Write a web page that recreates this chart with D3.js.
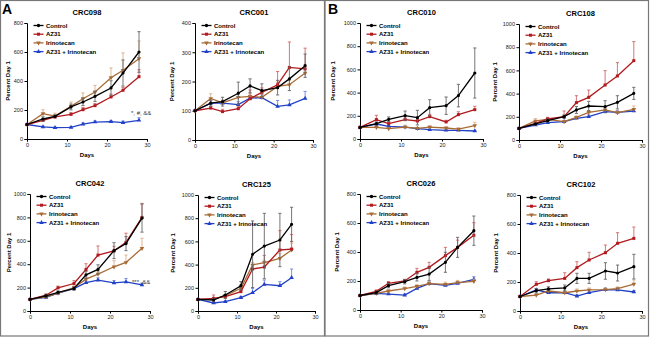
<!DOCTYPE html>
<html>
<head>
<meta charset="utf-8">
<script src="https://cdn.jsdelivr.net/npm/d3@7"></script>
<style>
  body { margin: 0; background: #fff; }
  text { font-family: Arial, "Liberation Sans", sans-serif; }
</style>
</head>
<body>
<svg id="chart" width="650" height="338"></svg>
<script>
// sampling days
const days = [0, 4, 7, 11, 14, 17, 21, 24, 28];
const days125 = [0, 4, 7, 11, 14, 17, 21, 24];
const seriesNames = ["Control", "AZ31", "Irinotecan", "AZ31 + Irinotecan"];
const xTicks = [0, 10, 20, 30];

// values per model, series order: control, az31, irinotecan, combo
const crc098 = [
  [100, 138, 156, 221, 255, 294, 352, 455, 600],
  [100, 129, 152, 170, 202, 230, 290, 336, 430],
  [100, 175, 158, 225, 278, 324, 423, 474, 554],
  [100, 83, 78, 80, 103, 117, 120, 113, 129]
];
const crc098Err = [
  [0, 15, 10, 20, 25, 35, 50, 90, 140],
  [0, 10, 12, 12, 15, 15, 20, 20, 48],
  [0, 27, 20, 30, 40, 46, 67, 120, 122],
  [0, 6, 5, 6, 8, 8, 8, 10, 18]
];
const crc001 = [
  [100, 126, 131, 160, 185, 169, 179, 209, 254],
  [100, 109, 97, 107, 141, 163, 189, 248, 243],
  [100, 142, 127, 146, 149, 146, 183, 189, 229],
  [100, 126, 126, 121, 143, 145, 115, 120, 142]
];
const crc001Err = [
  [0, 10, 15, 38, 24, 23, 25, 40, 40],
  [0, 6, 8, 8, 30, 15, 45, 87, 71],
  [0, 16, 10, 12, 12, 10, 15, 15, 30],
  [0, 8, 8, 10, 10, 10, 20, 17, 24]
];
const crc042 = [
  [100, 129, 160, 192, 309, 355, 516, 576, 794],
  [100, 135, 198, 235, 355, 478, 513, 587, 800],
  [100, 120, 152, 200, 272, 315, 378, 415, 536],
  [100, 117, 152, 192, 243, 264, 240, 249, 223]
];
const crc042Err = [
  [0, 10, 12, 15, 30, 40, 68, 60, 120],
  [0, 8, 15, 25, 49, 78, 40, 78, 120],
  [0, 8, 10, 15, 20, 25, 52, 63, 86],
  [0, 8, 10, 12, 15, 20, 20, 29, 15]
];
const crc125 = [
  [100, 95, 138, 218, 489, 560, 612, 747],
  [100, 109, 124, 167, 362, 379, 526, 534],
  [100, 103, 132, 195, 397, 417, 454, 526],
  [100, 69, 80, 115, 158, 230, 218, 287]
];
const crc125Err = [
  [0, 15, 30, 35, 287, 282, 230, 147],
  [0, 29, 10, 15, 20, 100, 167, 125],
  [0, 10, 10, 15, 20, 20, 40, 60],
  [0, 8, 8, 10, 37, 37, 35, 75]
];
const crc010 = [
  [100, 132, 170, 201, 184, 270, 287, 374, 569],
  [100, 167, 132, 167, 155, 193, 147, 210, 253],
  [100, 101, 89, 103, 92, 103, 95, 86, 115],
  [100, 129, 109, 103, 89, 80, 75, 75, 69]
];
const crc010Err = [
  [0, 15, 20, 40, 63, 69, 75, 97, 216],
  [0, 37, 15, 15, 15, 20, 15, 25, 29],
  [0, 10, 10, 15, 8, 10, 12, 8, 29],
  [0, 8, 8, 6, 6, 6, 5, 5, 5]
];
const crc108 = [
  [100, 138, 167, 201, 259, 293, 287, 325, 402],
  [100, 144, 181, 201, 322, 368, 474, 552, 684],
  [100, 164, 178, 158, 195, 239, 259, 236, 264],
  [100, 129, 149, 158, 187, 201, 244, 239, 250]
];
const crc108Err = [
  [0, 10, 12, 15, 30, 40, 52, 57, 52],
  [0, 12, 15, 49, 60, 63, 124, 115, 164],
  [0, 20, 12, 10, 12, 15, 15, 15, 29],
  [0, 10, 10, 10, 15, 15, 15, 15, 15]
];
const crc026 = [
  [100, 120, 168, 195, 225, 248, 329, 432, 547],
  [100, 129, 184, 200, 260, 294, 375, 432, 515],
  [100, 115, 131, 147, 163, 182, 177, 189, 198],
  [100, 115, 110, 103, 149, 182, 170, 184, 212]
];
const crc026Err = [
  [0, 10, 15, 15, 25, 44, 69, 69, 101],
  [0, 8, 12, 12, 27, 35, 57, 50, 87],
  [0, 8, 10, 12, 12, 12, 15, 15, 15],
  [0, 8, 8, 8, 12, 12, 12, 12, 18]
];
const crc102 = [
  [100, 140, 152, 159, 225, 225, 276, 262, 306],
  [100, 184, 209, 225, 299, 352, 402, 467, 501],
  [100, 110, 138, 126, 138, 145, 147, 154, 186],
  [100, 145, 126, 126, 103, 126, 147, 145, 131]
];
const crc102Err = [
  [0, 15, 15, 20, 35, 35, 57, 55, 85],
  [0, 18, 12, 39, 41, 53, 53, 73, 78],
  [0, 10, 10, 10, 14, 14, 12, 12, 28],
  [0, 10, 10, 10, 10, 10, 12, 10, 10]
];

const lineColors = ["#000000", "#b11a1e", "#a86b34", "#2141c6"];
const errColors = ["#666666", "#cf6a68", "#d9b08a", "#7088e0"];
const symbols = [d3.symbolCircle, d3.symbolSquare, d3.symbolTriangle, d3.symbolTriangle];

// panel layout (plot box in page pixels)
const panels = [
  { title: "CRC098", x: days, v: crc098, e: crc098Err, yMax: 800, l: 27, r: 147, t: 23, b: 139, yl: 17, note: "*, #, &&", nx: 131, ny: 115 },
  { title: "CRC001", x: days, v: crc001, e: crc001Err, yMax: 400, l: 195, r: 313, t: 23, b: 140, yl: 21 },
  { title: "CRC042", x: days, v: crc042, e: crc042Err, yMax: 1000, l: 30, r: 150, t: 194, b: 311, yl: 19, note: "***, &&", nx: 132, ny: 284 },
  { title: "CRC125", x: days125, v: crc125, e: crc125Err, yMax: 1000, l: 198, r: 315, t: 195, b: 311, yl: 23 },
  { title: "CRC010", x: days, v: crc010, e: crc010Err, yMax: 1000, l: 360, r: 483, t: 23, b: 139, yl: 25 },
  { title: "CRC108", x: days, v: crc108, e: crc108Err, yMax: 1000, l: 519, r: 642, t: 24, b: 140, yl: 22 },
  { title: "CRC026", x: days, v: crc026, e: crc026Err, yMax: 800, l: 360, r: 482, t: 194, b: 310, yl: 21 },
  { title: "CRC102", x: days, v: crc102, e: crc102Err, yMax: 800, l: 520, r: 642, t: 195, b: 311, yl: 22 }
];

const svg = d3.select("#chart");

// frames around A and B
svg.append("rect").attr("x", 0.5).attr("y", 0.5).attr("width", 324).attr("height", 335.5)
  .attr("fill", "none").attr("stroke", "#777").attr("stroke-width", 1.2);
svg.append("rect").attr("x", 325).attr("y", 0.5).attr("width", 323.5).attr("height", 335.5)
  .attr("fill", "none").attr("stroke", "#777").attr("stroke-width", 1.2);
svg.append("text").attr("x", 2).attr("y", 14).attr("font-size", 14).attr("font-weight", "bold").text("A");
svg.append("text").attr("x", 328).attr("y", 14).attr("font-size", 14).attr("font-weight", "bold").text("B");

panels.forEach((p) => {
  const x = d3.scaleLinear().domain([0, 30]).range([p.l, p.r]);
  const y = d3.scaleLinear().domain([0, p.yMax]).range([p.b, p.t]);
  const g = svg.append("g");

  // axes
  const xAxis = g.append("g").attr("transform", `translate(0,${p.b})`)
    .call(d3.axisBottom(x).tickValues(xTicks).tickSize(2.5).tickPadding(1.5));
  const yAxis = g.append("g").attr("transform", `translate(${p.l},0)`)
    .call(d3.axisLeft(y).ticks(p.yMax / 200 > 4 ? 5 : 4, "d").tickSize(2.5).tickPadding(1.5));
  [xAxis, yAxis].forEach((a) => {
    a.selectAll("path, line").attr("stroke", "#000").attr("stroke-width", 1);
    a.selectAll("text").attr("font-size", 5.5).attr("fill", "#222").attr("font-family", "Arial");
  });

  g.append("text").attr("x", (p.l + p.r) / 2).attr("y", p.t - 8)
    .attr("text-anchor", "middle").attr("font-size", 7.5).attr("font-weight", "bold").text(p.title);
  g.append("text").attr("x", (p.l + p.r) / 2).attr("y", p.b + 18)
    .attr("text-anchor", "middle").attr("font-size", 6).attr("font-weight", "bold").text("Days");
  g.append("text")
    .attr("transform", `translate(${p.l - p.yl},${(p.t + p.b) / 2}) rotate(-90)`)
    .attr("text-anchor", "middle").attr("font-size", 6).attr("font-weight", "bold").text("Percent Day 1");

  const line = d3.line().x((d) => x(d[0])).y((d) => y(d[1]));

  // draw combo first so control ends on top
  [3, 2, 1, 0].forEach((s) => {
    const pts = p.x.map((d, i) => [d, p.v[s][i], p.e[s][i]]);
    const sg = g.append("g");
    // error bars (control both ways, treatments upward)
    pts.filter((d) => d[2] > 0).forEach((d) => {
      const lo = s === 0 ? d[1] - d[2] : d[1];
      const hi = d[1] + d[2];
      sg.append("line").attr("x1", x(d[0])).attr("x2", x(d[0]))
        .attr("y1", y(lo)).attr("y2", y(hi))
        .attr("stroke", errColors[s]).attr("stroke-width", 0.9);
      [hi].concat(s === 0 ? [lo] : []).forEach((c) => {
        sg.append("line").attr("x1", x(d[0]) - 1.6).attr("x2", x(d[0]) + 1.6)
          .attr("y1", y(c)).attr("y2", y(c))
          .attr("stroke", errColors[s]).attr("stroke-width", 0.9);
      });
    });
    sg.append("path").datum(pts).attr("d", line).attr("fill", "none")
      .attr("stroke", lineColors[s]).attr("stroke-width", 1.3);
    sg.selectAll("path.m").data(pts).join("path").attr("class", "m")
      .attr("d", d3.symbol(symbols[s], s === 0 ? 8 : 9))
      .attr("transform", (d) => `translate(${x(d[0])},${y(d[1])})${s === 2 ? " rotate(180)" : ""}`)
      .attr("fill", lineColors[s]);
  });

  // legend
  seriesNames.forEach((name, s) => {
    const ly = p.t + 2.5 + s * 8.7;
    const lx = p.l + 6.5;
    g.append("line").attr("x1", lx).attr("x2", lx + 10).attr("y1", ly).attr("y2", ly)
      .attr("stroke", lineColors[s]).attr("stroke-width", 1.3);
    g.append("path").attr("d", d3.symbol(symbols[s], 9))
      .attr("transform", `translate(${lx + 5},${ly})${s === 2 ? " rotate(180)" : ""}`)
      .attr("fill", lineColors[s]);
    g.append("text").attr("x", lx + 12.5).attr("y", ly + 2.1)
      .attr("font-size", 6).attr("font-weight", "bold").text(name);
  });

  if (p.note) {
    g.append("text").attr("x", p.nx).attr("y", p.ny).attr("font-size", 6).attr("fill", "#333").text(p.note);
  }
});
</script>
</body>
</html>
